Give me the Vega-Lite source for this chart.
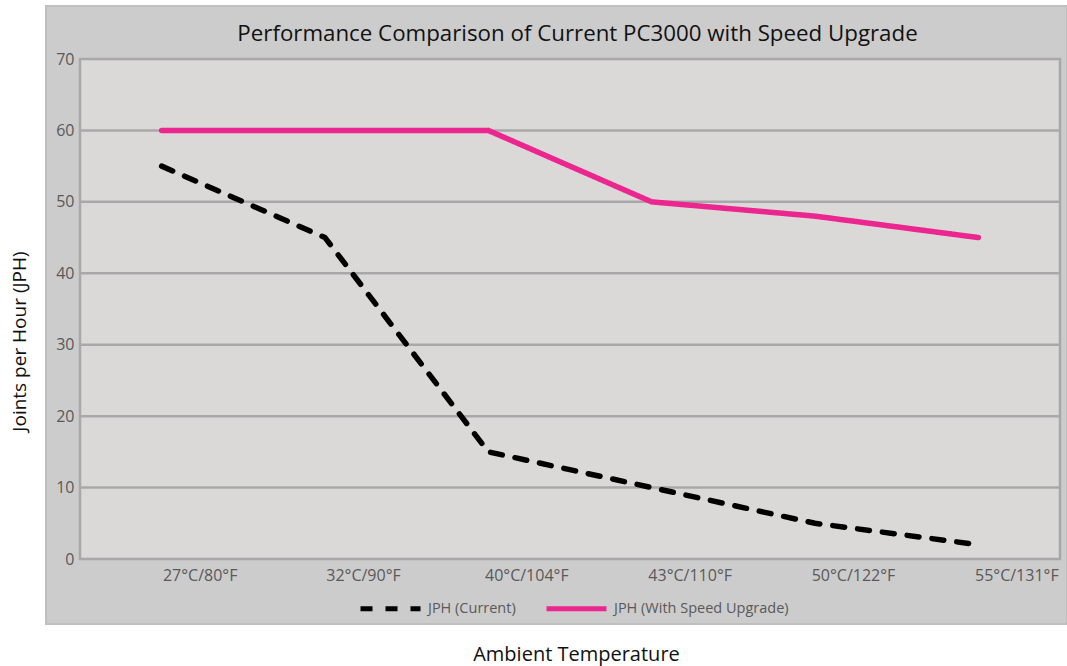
{
  "$schema": "https://vega.github.io/schema/vega-lite/v6.json",
  "autosize": {"type": "none"},
  "padding": {"left": 46, "top": 6, "right": 0, "bottom": 42},
  "width": 1021,
  "height": 618,
  "background": "#ffffff",
  "title": {
    "text": "Performance Comparison of Current PC3000 with Speed Upgrade",
    "frame": "group",
    "anchor": "middle",
    "offset": 0,
    "dx": 21,
    "dy": 39,
    "fontSize": 22.3,
    "fontWeight": "normal",
    "color": "#111111"
  },
  "datasets": {
    "series": [
      {"temp": "27°C/80°F", "idx": 0, "series": "JPH (Current)", "jph": 55},
      {"temp": "32°C/90°F", "idx": 1, "series": "JPH (Current)", "jph": 45},
      {"temp": "40°C/104°F", "idx": 2, "series": "JPH (Current)", "jph": 15},
      {"temp": "43°C/110°F", "idx": 3, "series": "JPH (Current)", "jph": 10},
      {"temp": "50°C/122°F", "idx": 4, "series": "JPH (Current)", "jph": 5},
      {"temp": "55°C/131°F", "idx": 5, "series": "JPH (Current)", "jph": 2},
      {"temp": "27°C/80°F", "idx": 0, "series": "JPH (With Speed Upgrade)", "jph": 60},
      {"temp": "32°C/90°F", "idx": 1, "series": "JPH (With Speed Upgrade)", "jph": 60},
      {"temp": "40°C/104°F", "idx": 2, "series": "JPH (With Speed Upgrade)", "jph": 60},
      {"temp": "43°C/110°F", "idx": 3, "series": "JPH (With Speed Upgrade)", "jph": 50},
      {"temp": "50°C/122°F", "idx": 4, "series": "JPH (With Speed Upgrade)", "jph": 48},
      {"temp": "55°C/131°F", "idx": 5, "series": "JPH (With Speed Upgrade)", "jph": 45}
    ],
    "grid": [{"g": 10}, {"g": 20}, {"g": 30}, {"g": 40}, {"g": 50}, {"g": 60}]
  },
  "layer": [
    {
      "data": {"values": [{}]},
      "mark": {"type": "rect", "fill": "#dad9d8", "stroke": "#a8a8ab", "strokeWidth": 2.5},
      "encoding": {
        "x": {
          "datum": -0.5, "type": "quantitative",
          "scale": {"domain": [-0.70816, 5.54286], "nice": false, "zero": false},
          "axis": {
            "values": [0, 1, 2, 3, 4, 5],
            "labelExpr": "['27°C/80°F','32°C/90°F','40°C/104°F','43°C/110°F','50°C/122°F','55°C/131°F'][datum.value]",
            "offset": -65, "labelOffset": 38, "labelPadding": 8, "labelFontSize": 16, "labelColor": "#595959",
            "labelFlush": false, "labelOverlap": false, "grid": false, "domain": false, "ticks": false,
            "title": "Ambient Temperature", "titleFontSize": 20, "titleFontWeight": "normal", "titleColor": "#111111",
            "titleX": 530, "titlePadding": 61
          }
        },
        "x2": {"datum": 5.5},
        "y": {
          "datum": 0, "type": "quantitative",
          "scale": {"domain": [-9.1, 77.42], "nice": false, "zero": false},
          "axis": {
            "values": [0, 10, 20, 30, 40, 50, 60, 70],
            "offset": -34, "labelPadding": 6, "labelFontSize": 16, "labelColor": "#595959",
            "labelFlush": false, "grid": false, "domain": false, "ticks": false,
            "title": "Joints per Hour (JPH)", "titleFontSize": 19, "titleFontWeight": "normal", "titleColor": "#111111",
            "titleY": 335, "titlePadding": 26
          }
        },
        "y2": {"datum": 70}
      }
    },
    {
      "data": {"name": "grid"},
      "mark": {"type": "rule", "stroke": "#a8a8ab", "strokeWidth": 2.5},
      "encoding": {
        "x": {
          "datum": -0.5, "type": "quantitative",
          "scale": {"domain": [-0.70816, 5.54286], "nice": false, "zero": false},
          "axis": {
            "values": [0, 1, 2, 3, 4, 5],
            "labelExpr": "['27°C/80°F','32°C/90°F','40°C/104°F','43°C/110°F','50°C/122°F','55°C/131°F'][datum.value]",
            "offset": -65, "labelOffset": 38, "labelPadding": 8, "labelFontSize": 16, "labelColor": "#595959",
            "labelFlush": false, "labelOverlap": false, "grid": false, "domain": false, "ticks": false,
            "title": "Ambient Temperature", "titleFontSize": 20, "titleFontWeight": "normal", "titleColor": "#111111",
            "titleX": 530, "titlePadding": 61
          }
        },
        "x2": {"datum": 5.5},
        "y": {
          "field": "g", "type": "quantitative",
          "scale": {"domain": [-9.1, 77.42], "nice": false, "zero": false},
          "axis": {
            "values": [0, 10, 20, 30, 40, 50, 60, 70],
            "offset": -34, "labelPadding": 6, "labelFontSize": 16, "labelColor": "#595959",
            "labelFlush": false, "grid": false, "domain": false, "ticks": false,
            "title": "Joints per Hour (JPH)", "titleFontSize": 19, "titleFontWeight": "normal", "titleColor": "#111111",
            "titleY": 335, "titlePadding": 26
          }
        }
      }
    },
    {
      "data": {"name": "series"},
      "mark": {"type": "line", "strokeWidth": 5.5, "strokeCap": "round", "strokeJoin": "round"},
      "encoding": {
        "x": {
          "field": "idx", "type": "quantitative",
          "scale": {"domain": [-0.70816, 5.54286], "nice": false, "zero": false},
          "axis": {
            "values": [0, 1, 2, 3, 4, 5],
            "labelExpr": "['27°C/80°F','32°C/90°F','40°C/104°F','43°C/110°F','50°C/122°F','55°C/131°F'][datum.value]",
            "offset": -65, "labelOffset": 38, "labelPadding": 8, "labelFontSize": 16, "labelColor": "#595959",
            "labelFlush": false, "labelOverlap": false, "grid": false, "domain": false, "ticks": false,
            "title": "Ambient Temperature", "titleFontSize": 20, "titleFontWeight": "normal", "titleColor": "#111111",
            "titleX": 530, "titlePadding": 61
          }
        },
        "y": {
          "field": "jph", "type": "quantitative",
          "scale": {"domain": [-9.1, 77.42], "nice": false, "zero": false},
          "axis": {
            "values": [0, 10, 20, 30, 40, 50, 60, 70],
            "offset": -34, "labelPadding": 6, "labelFontSize": 16, "labelColor": "#595959",
            "labelFlush": false, "grid": false, "domain": false, "ticks": false,
            "title": "Joints per Hour (JPH)", "titleFontSize": 19, "titleFontWeight": "normal", "titleColor": "#111111",
            "titleY": 335, "titlePadding": 26
          }
        },
        "color": {
          "field": "series", "type": "nominal",
          "scale": {"domain": ["JPH (Current)", "JPH (With Speed Upgrade)"], "range": ["#000000", "#ec268f"]},
          "legend": {
            "orient": "none", "direction": "horizontal", "legendX": 312, "legendY": 570, "title": null,
            "symbolType": "stroke", "symbolSize": 3600, "symbolStrokeWidth": 5,
            "labelFontSize": 14.5, "labelColor": "#595959", "labelOffset": 5, "labelLimit": 300, "columnPadding": 20
          }
        },
        "strokeDash": {
          "field": "series", "type": "nominal",
          "scale": {"domain": ["JPH (Current)", "JPH (With Speed Upgrade)"], "range": [[12, 13], [1, 0]]},
          "legend": {
            "orient": "none", "direction": "horizontal", "legendX": 312, "legendY": 570, "title": null,
            "symbolType": "stroke", "symbolSize": 3600, "symbolStrokeWidth": 5,
            "labelFontSize": 14.5, "labelColor": "#595959", "labelOffset": 5, "labelLimit": 300, "columnPadding": 20
          }
        }
      }
    }
  ],
  "config": {
    "font": "Open Sans",
    "view": {"fill": "#cccccc", "stroke": "#bfbfbf", "strokeWidth": 2}
  }
}
